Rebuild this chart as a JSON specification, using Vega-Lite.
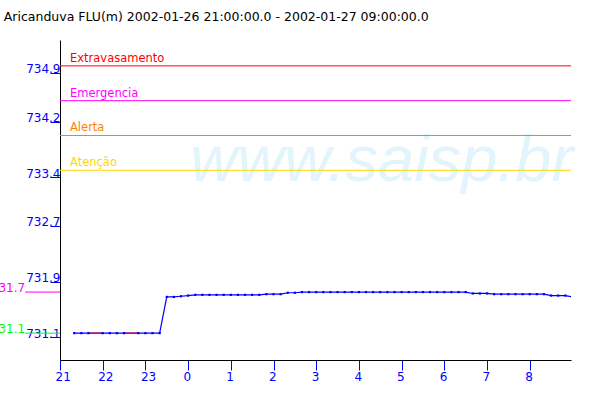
{
  "$schema": "https://vega.github.io/schema/vega-lite/v6.json",
  "width": 511,
  "height": 320,
  "autosize": "none",
  "padding": {"left": 60, "top": 40, "right": 29, "bottom": 40},
  "background": "white",
  "config": {"view": {"stroke": null}, "font": "DejaVu Sans"},
  "title": {
    "text": "Aricanduva FLU(m) 2002-01-26 21:00:00.0 - 2002-01-27 09:00:00.0",
    "anchor": "start",
    "dx": 13,
    "offset": 17,
    "font": "DejaVu Sans",
    "fontSize": 12.5,
    "fontWeight": "normal",
    "color": "black"
  },
  "datasets": {
    "series": [
      {"t": "2002-01-26T21:20:00", "v": 731.16},
      {"t": "2002-01-26T21:30:00", "v": 731.16},
      {"t": "2002-01-26T21:40:00", "v": 731.16},
      {"t": "2002-01-26T22:00:00", "v": 731.16},
      {"t": "2002-01-26T22:10:00", "v": 731.16},
      {"t": "2002-01-26T22:20:00", "v": 731.16},
      {"t": "2002-01-26T22:30:00", "v": 731.16},
      {"t": "2002-01-26T22:50:00", "v": 731.16},
      {"t": "2002-01-26T23:00:00", "v": 731.16},
      {"t": "2002-01-26T23:10:00", "v": 731.16},
      {"t": "2002-01-26T23:20:00", "v": 731.16},
      {"t": "2002-01-26T23:30:00", "v": 731.68},
      {"t": "2002-01-26T23:40:00", "v": 731.68},
      {"t": "2002-01-26T23:50:00", "v": 731.69},
      {"t": "2002-01-27T00:00:00", "v": 731.70},
      {"t": "2002-01-27T00:10:00", "v": 731.71},
      {"t": "2002-01-27T00:20:00", "v": 731.71},
      {"t": "2002-01-27T00:30:00", "v": 731.71},
      {"t": "2002-01-27T00:40:00", "v": 731.71},
      {"t": "2002-01-27T00:50:00", "v": 731.71},
      {"t": "2002-01-27T01:00:00", "v": 731.71},
      {"t": "2002-01-27T01:10:00", "v": 731.71},
      {"t": "2002-01-27T01:20:00", "v": 731.71},
      {"t": "2002-01-27T01:30:00", "v": 731.71},
      {"t": "2002-01-27T01:40:00", "v": 731.71},
      {"t": "2002-01-27T01:50:00", "v": 731.72},
      {"t": "2002-01-27T02:00:00", "v": 731.72},
      {"t": "2002-01-27T02:10:00", "v": 731.72},
      {"t": "2002-01-27T02:20:00", "v": 731.74},
      {"t": "2002-01-27T02:30:00", "v": 731.74},
      {"t": "2002-01-27T02:40:00", "v": 731.75},
      {"t": "2002-01-27T02:50:00", "v": 731.75},
      {"t": "2002-01-27T03:00:00", "v": 731.75},
      {"t": "2002-01-27T03:10:00", "v": 731.75},
      {"t": "2002-01-27T03:20:00", "v": 731.75},
      {"t": "2002-01-27T03:30:00", "v": 731.75},
      {"t": "2002-01-27T03:40:00", "v": 731.75},
      {"t": "2002-01-27T03:50:00", "v": 731.75},
      {"t": "2002-01-27T04:00:00", "v": 731.75},
      {"t": "2002-01-27T04:10:00", "v": 731.75},
      {"t": "2002-01-27T04:20:00", "v": 731.75},
      {"t": "2002-01-27T04:30:00", "v": 731.75},
      {"t": "2002-01-27T04:40:00", "v": 731.75},
      {"t": "2002-01-27T04:50:00", "v": 731.75},
      {"t": "2002-01-27T05:00:00", "v": 731.75},
      {"t": "2002-01-27T05:10:00", "v": 731.75},
      {"t": "2002-01-27T05:20:00", "v": 731.75},
      {"t": "2002-01-27T05:30:00", "v": 731.75},
      {"t": "2002-01-27T05:40:00", "v": 731.75},
      {"t": "2002-01-27T05:50:00", "v": 731.75},
      {"t": "2002-01-27T06:00:00", "v": 731.75},
      {"t": "2002-01-27T06:10:00", "v": 731.75},
      {"t": "2002-01-27T06:20:00", "v": 731.75},
      {"t": "2002-01-27T06:30:00", "v": 731.75},
      {"t": "2002-01-27T06:40:00", "v": 731.73},
      {"t": "2002-01-27T06:50:00", "v": 731.73},
      {"t": "2002-01-27T07:00:00", "v": 731.73},
      {"t": "2002-01-27T07:10:00", "v": 731.72},
      {"t": "2002-01-27T07:20:00", "v": 731.72},
      {"t": "2002-01-27T07:30:00", "v": 731.72},
      {"t": "2002-01-27T07:40:00", "v": 731.72},
      {"t": "2002-01-27T07:50:00", "v": 731.72},
      {"t": "2002-01-27T08:00:00", "v": 731.72},
      {"t": "2002-01-27T08:10:00", "v": 731.72},
      {"t": "2002-01-27T08:20:00", "v": 731.72},
      {"t": "2002-01-27T08:30:00", "v": 731.70},
      {"t": "2002-01-27T08:40:00", "v": 731.70},
      {"t": "2002-01-27T08:50:00", "v": 731.70},
      {"t": "2002-01-27T09:00:00", "v": 731.68}
    ],
    "gaps": [
      {"seg": "a", "t": "2002-01-26T21:40:00", "v": 731.16},
      {"seg": "a", "t": "2002-01-26T22:00:00", "v": 731.16},
      {"seg": "b", "t": "2002-01-26T22:30:00", "v": 731.16},
      {"seg": "b", "t": "2002-01-26T22:50:00", "v": 731.16}
    ],
    "thresholds": [
      {"name": "Extravasamento", "v": 735.0, "t": "2002-01-26T21:00:00"},
      {"name": "Emergencia", "v": 734.5, "t": "2002-01-26T21:00:00"},
      {"name": "Alerta", "v": 734.0, "t": "2002-01-26T21:00:00"},
      {"name": "Atenção", "v": 733.5, "t": "2002-01-26T21:00:00"}
    ],
    "extremes": [
      {"name": "max", "v": 731.75, "label": "731.7", "t": "2002-01-26T20:11:00", "t1": "2002-01-26T21:00:00"},
      {"name": "min", "v": 731.16, "label": "731.1", "t": "2002-01-26T20:11:00", "t1": "2002-01-26T21:00:00"}
    ],
    "wm": [
      {"text": "www.saisp.br", "t": "2002-01-27T00:03:00", "v": 733.35}
    ]
  },
  "layer": [
    {
      "data": {"name": "wm"},
      "mark": {"type": "text", "align": "left", "baseline": "alphabetic", "font": "Liberation Sans", "fontSize": 65, "fontStyle": "italic", "color": "#e2f4fc"},
      "encoding": {
        "x": {"field": "t", "type": "temporal", "scale": {"domain": ["2002-01-26T21:00:00", "2002-01-27T08:58:00"], "nice": false}, "title": null,
          "axis": {"format": "%-H", "tickCount": 12, "grid": false, "domainColor": "black", "tickColor": "#0000ff", "tickSize": 10, "labelColor": "#0000ff", "labelFont": "DejaVu Sans", "labelFontSize": 12, "labelAlign": "left", "labelOffset": -5, "labelPadding": 1, "labelFlush": false}},
        "y": {"field": "v", "type": "quantitative", "scale": {"domain": [730.774, 735.372], "nice": false, "zero": false}, "title": null,
          "axis": {"values": [731.1, 731.9, 732.7, 733.4, 734.2, 734.9], "format": ".1f", "grid": false, "domainColor": "black", "tickColor": "#0000ff", "tickSize": 10, "labelColor": "#0000ff", "labelFont": "DejaVu Sans", "labelFontSize": 12, "labelAlign": "right", "labelBaseline": "alphabetic", "labelPadding": -10, "labelFlush": false}},
        "text": {"field": "text"}
      }
    },
    {
      "data": {"name": "thresholds"},
      "mark": {"type": "rule", "strokeWidth": 1},
      "encoding": {
        "y": {"field": "v", "type": "quantitative"},
        "color": {"field": "name", "type": "nominal", "scale": {"domain": ["Extravasamento", "Emergencia", "Alerta", "Atenção", "max", "min"], "range": ["#ff0000", "#ff00ff", "#ff8000", "#ffd700", "#ff00ff", "#00ff00"]}, "legend": null}
      }
    },
    {
      "data": {"name": "thresholds"},
      "mark": {"type": "text", "align": "left", "baseline": "alphabetic", "dx": 10, "dy": -4, "font": "DejaVu Sans", "fontSize": 11.5},
      "encoding": {
        "x": {"field": "t", "type": "temporal"},
        "y": {"field": "v", "type": "quantitative"},
        "text": {"field": "name"},
        "color": {"field": "name", "type": "nominal", "legend": null}
      }
    },
    {
      "data": {"name": "extremes"},
      "mark": {"type": "rule", "strokeWidth": 1},
      "encoding": {
        "x": {"field": "t", "type": "temporal"},
        "x2": {"field": "t1"},
        "y": {"field": "v", "type": "quantitative"},
        "color": {"field": "name", "type": "nominal", "legend": null}
      }
    },
    {
      "data": {"name": "extremes"},
      "mark": {"type": "text", "align": "right", "baseline": "alphabetic", "dy": 0, "font": "DejaVu Sans", "fontSize": 12},
      "encoding": {
        "x": {"field": "t", "type": "temporal"},
        "y": {"field": "v", "type": "quantitative"},
        "text": {"field": "label"},
        "color": {"field": "name", "type": "nominal", "legend": null}
      }
    },
    {
      "data": {"name": "series"},
      "mark": {"type": "line", "color": "#0000ff", "strokeWidth": 1.2, "clip": true},
      "encoding": {
        "x": {"field": "t", "type": "temporal"},
        "y": {"field": "v", "type": "quantitative"}
      }
    },
    {
      "data": {"name": "gaps"},
      "mark": {"type": "line", "color": "#ff0000", "strokeWidth": 1.2},
      "encoding": {
        "x": {"field": "t", "type": "temporal"},
        "y": {"field": "v", "type": "quantitative"},
        "detail": {"field": "seg"}
      }
    },
    {
      "data": {"name": "series"},
      "mark": {"type": "point", "shape": "square", "filled": true, "size": 5, "color": "#0000ff", "opacity": 1, "clip": true},
      "encoding": {
        "x": {"field": "t", "type": "temporal"},
        "y": {"field": "v", "type": "quantitative"}
      }
    }
  ]
}
